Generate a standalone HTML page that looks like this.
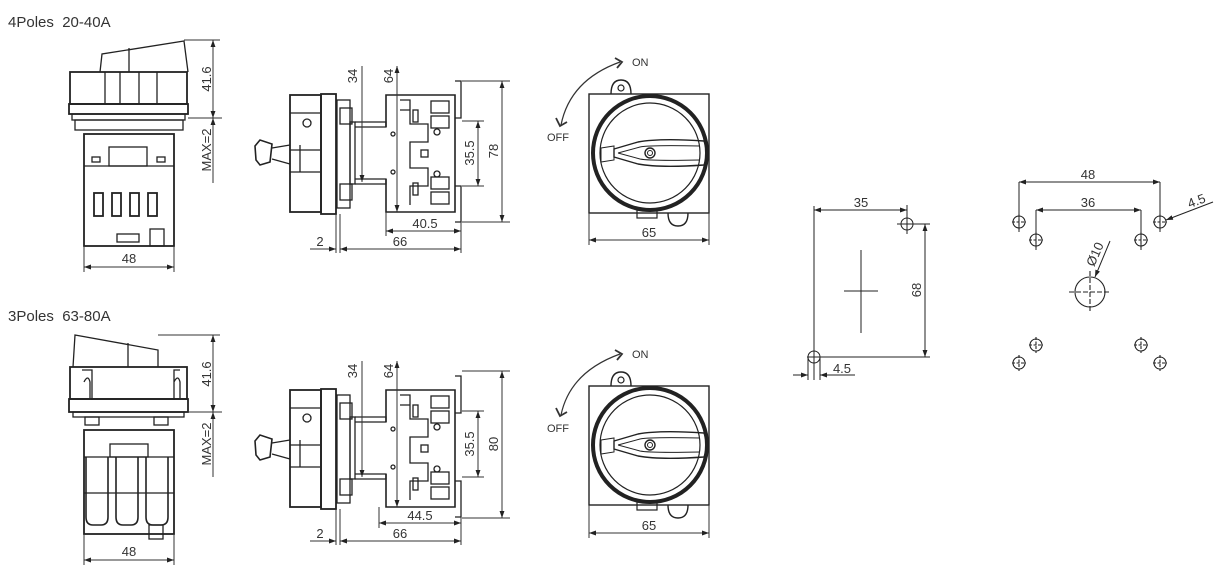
<!DOCTYPE html>
<html><head><meta charset="utf-8"><style>
html,body{margin:0;padding:0;background:#fff;}
svg{display:block;}
text{font-family:"Liberation Sans",sans-serif;fill:#333;}
</style></head><body>
<svg width="1223" height="578" viewBox="0 0 1223 578" xmlns="http://www.w3.org/2000/svg">
<defs>
<marker id="a" viewBox="0 0 10 10" refX="10" refY="5" markerWidth="7" markerHeight="7" orient="auto-start-reverse"><path d="M0,1.5 L10,5 L0,8.5z" fill="#222"/></marker>

<g id="front4" fill="none" stroke="#222" stroke-width="1.3">
 <path d="M100,72 L102,54 L184,41 L188,72"/>
 <line x1="129" y1="48" x2="129" y2="72"/>
 <rect x="70" y="72" width="117" height="32" stroke-width="1.8"/>
 <path d="M105,72 V104 M120,72 V104 M139,72 V104 M157,72 V104"/>
 <rect x="69" y="104" width="119" height="10" stroke-width="1.8"/>
 <rect x="72" y="114" width="113" height="6"/>
 <rect x="75" y="120" width="108" height="10"/>
 <rect x="84" y="134" width="90" height="112" stroke-width="1.8"/>
 <rect x="109" y="147" width="38" height="19"/>
 <line x1="84" y1="166" x2="174" y2="166"/>
 <rect x="92" y="157" width="8" height="5"/><rect x="157" y="157" width="8" height="5"/>
 <rect x="94" y="193" width="9" height="23" stroke-width="1.8"/><rect x="112" y="193" width="9" height="23" stroke-width="1.8"/><rect x="130" y="193" width="9" height="23" stroke-width="1.8"/><rect x="148" y="193" width="9" height="23" stroke-width="1.8"/>
 <rect x="117" y="234" width="22" height="8"/><rect x="150" y="229" width="14" height="17"/>
</g>

<g id="front3" fill="none" stroke="#222" stroke-width="1.3">
 <path d="M73,367 L75,335 L158,350 L158,367"/>
 <line x1="128" y1="343" x2="128" y2="367"/>
 <rect x="70" y="367" width="117" height="32" stroke-width="1.8"/>
 <path d="M82,370 h10 v30 M180,370 h-6 v30 M84,382 q4,-8 6,0 v16 M174,382 q4,-8 6,0 v16"/>
 <rect x="69" y="399" width="119" height="13" stroke-width="1.8"/>
 <rect x="73" y="412" width="111" height="5"/>
 <rect x="85" y="417" width="14" height="8"/><rect x="154" y="417" width="14" height="8"/>
 <rect x="84" y="430" width="90" height="104" stroke-width="1.8"/>
 <rect x="110" y="444" width="38" height="13"/>
 <line x1="84" y1="457" x2="174" y2="457"/>
 <line x1="84" y1="493" x2="174" y2="493"/>
 <path d="M86,457 v60 q0,8 7,8 h8 q7,0 7,-8 v-60 M116,457 v60 q0,8 7,8 h8 q7,0 7,-8 v-60 M146,457 v60 q0,8 7,8 h8 q7,0 7,-8 v-60" stroke-width="1.6"/>
 <rect x="149" y="525" width="14" height="14"/>
</g>

<g id="side" fill="none" stroke="#222" stroke-width="1.3">
 <path d="M260,140 L255,146 L256,160 L260,165 L270,162 L272,144 Z" stroke-width="1.6"/>
 <path d="M272,148 L290,145 M272,159 L290,164"/>
 <rect x="290" y="95" width="31" height="117" stroke-width="1.8"/>
 <path d="M290,150 H320 M300,145 V172 M290,172 H320 M290,113 H320"/>
 <circle cx="307" cy="123" r="4"/>
 <rect x="321" y="94" width="15" height="120" stroke-width="1.8"/>
 <rect x="337" y="100" width="13" height="108"/>
 <rect x="340" y="108" width="12" height="16"/><rect x="340" y="184" width="12" height="16"/>
 <rect x="350" y="122" width="5" height="62"/>
 <path d="M355,122 H386 V127 H355 M355,184 H386 V179 H355"/>
 <path d="M386,127 V95 H455 V212 H386 V179" stroke-width="1.6"/>
 <path d="M400,100 H410 V110 H400 M410,110 V124 H428 V142 H410 V168 H428 V186 H410 V205"/>
 <rect x="413" y="110" width="5" height="12"/><rect x="413" y="183" width="5" height="12"/>
 <rect x="431" y="101" width="18" height="12"/><rect x="431" y="116" width="18" height="12"/><rect x="431" y="177" width="18" height="12"/><rect x="431" y="192" width="18" height="12"/>
 <circle cx="393" cy="134" r="2"/><circle cx="393" cy="172" r="2"/><circle cx="437" cy="132" r="3"/><circle cx="437" cy="174" r="3"/>
 <rect x="421" y="150" width="7" height="7"/>
 <path d="M455,81 H461 V118 H455 M455,186 H461 V222 H455"/>
</g>

<g id="rotor" fill="none" stroke="#222">
 <rect x="589" y="94" width="120" height="119" stroke-width="1.4"/>
 <path d="M611,94 Q611,80 621,80 Q631,80 631,94" stroke-width="1.4"/>
 <circle cx="621" cy="88" r="3" stroke-width="1.2"/>
 <path d="M668,213 Q668,226 678,226 Q688,226 688,213" stroke-width="1.4"/>
 <rect x="637" y="210" width="20" height="8" stroke-width="1.2"/>
 <circle cx="650" cy="153" r="57" stroke-width="4"/>
 <circle cx="650" cy="153" r="50" stroke-width="1.2"/>
 <path d="M614,149 L638,142 Q660,138 704,141 L708,153 L704,165 Q660,168 638,164 L614,157 Z" stroke-width="1.4"/>
 <path d="M618,153 L640,147 Q650,145 700,146 M618,153 L640,159 Q650,161 700,160" stroke-width="1"/>
 <circle cx="650" cy="153" r="5" stroke-width="1.4"/><circle cx="650" cy="153" r="2.5" stroke-width="1"/>
 <path d="M601,148 L614,146 L614,160 L601,162 Z" stroke-width="1"/>
</g>
</defs>

<text x="8" y="27" font-size="15">4Poles&#160;&#160;20-40A</text>
<text x="8" y="321" font-size="15">3Poles&#160;&#160;63-80A</text>

<!-- front views -->
<use href="#front4"/>
<use href="#front3"/>
<g stroke="#333" stroke-width="1" fill="none">
 <line x1="184" y1="40" x2="220" y2="40"/><line x1="188" y1="118" x2="222" y2="118"/>
 <line x1="213" y1="40" x2="213" y2="118" marker-start="url(#a)" marker-end="url(#a)"/>
 <line x1="213" y1="118" x2="213" y2="183" marker-start="url(#a)"/>
 <line x1="84" y1="246" x2="84" y2="272"/><line x1="174" y1="246" x2="174" y2="272"/>
 <line x1="84" y1="267" x2="174" y2="267" marker-start="url(#a)" marker-end="url(#a)"/>

 <line x1="158" y1="335" x2="220" y2="335"/><line x1="188" y1="412" x2="222" y2="412"/>
 <line x1="213" y1="335" x2="213" y2="412" marker-start="url(#a)" marker-end="url(#a)"/>
 <line x1="213" y1="412" x2="213" y2="477" marker-start="url(#a)"/>
 <line x1="84" y1="534" x2="84" y2="565"/><line x1="174" y1="534" x2="174" y2="565"/>
 <line x1="84" y1="560" x2="174" y2="560" marker-start="url(#a)" marker-end="url(#a)"/>
</g>
<g font-size="13">
 <text transform="translate(211,79) rotate(-90)" text-anchor="middle">41.6</text>
 <text transform="translate(211,150) rotate(-90)" text-anchor="middle">MAX=2</text>
 <text x="129" y="263" text-anchor="middle">48</text>
 <text transform="translate(211,374) rotate(-90)" text-anchor="middle">41.6</text>
 <text transform="translate(211,444) rotate(-90)" text-anchor="middle">MAX=2</text>
 <text x="129" y="556" text-anchor="middle">48</text>
</g>

<!-- side views -->
<use href="#side"/>
<use href="#side" transform="translate(0,295)"/>
<g stroke="#333" stroke-width="1" fill="none">
 <line x1="362" y1="66" x2="362" y2="182" marker-end="url(#a)"/>
 <line x1="397" y1="66" x2="397" y2="212" marker-start="url(#a)" marker-end="url(#a)"/>
 <line x1="462" y1="121" x2="484" y2="121"/><line x1="462" y1="186" x2="484" y2="186"/>
 <line x1="478" y1="121" x2="478" y2="186" marker-start="url(#a)" marker-end="url(#a)"/>
 <line x1="462" y1="81" x2="510" y2="81"/><line x1="462" y1="222" x2="510" y2="222"/>
 <line x1="502" y1="81" x2="502" y2="222" marker-start="url(#a)" marker-end="url(#a)"/>
 <line x1="386" y1="212" x2="386" y2="236"/><line x1="461" y1="222" x2="461" y2="253"/>
 <line x1="386" y1="231" x2="461" y2="231" marker-start="url(#a)" marker-end="url(#a)"/>
 <line x1="336" y1="214" x2="336" y2="253"/><line x1="340" y1="214" x2="340" y2="253"/>
 <line x1="310" y1="249" x2="336" y2="249" marker-end="url(#a)"/>
 <line x1="340" y1="249" x2="461" y2="249" marker-start="url(#a)" marker-end="url(#a)"/>

 <line x1="362" y1="361" x2="362" y2="477" marker-end="url(#a)"/>
 <line x1="397" y1="361" x2="397" y2="507" marker-start="url(#a)" marker-end="url(#a)"/>
 <line x1="462" y1="411" x2="484" y2="411"/><line x1="462" y1="477" x2="484" y2="477"/>
 <line x1="478" y1="411" x2="478" y2="477" marker-start="url(#a)" marker-end="url(#a)"/>
 <line x1="462" y1="371" x2="510" y2="371"/><line x1="462" y1="518" x2="510" y2="518"/>
 <line x1="502" y1="371" x2="502" y2="518" marker-start="url(#a)" marker-end="url(#a)"/>
 <line x1="379" y1="507" x2="379" y2="528"/><line x1="461" y1="517" x2="461" y2="545"/>
 <line x1="379" y1="523" x2="461" y2="523" marker-start="url(#a)" marker-end="url(#a)"/>
 <line x1="336" y1="509" x2="336" y2="545"/><line x1="340" y1="509" x2="340" y2="545"/>
 <line x1="310" y1="541" x2="336" y2="541" marker-end="url(#a)"/>
 <line x1="340" y1="541" x2="461" y2="541" marker-start="url(#a)" marker-end="url(#a)"/>
</g>
<g font-size="13">
 <text transform="translate(357,76) rotate(-90)" text-anchor="middle">34</text>
 <text transform="translate(393,76) rotate(-90)" text-anchor="middle">64</text>
 <text transform="translate(474,153) rotate(-90)" text-anchor="middle">35.5</text>
 <text transform="translate(498,151) rotate(-90)" text-anchor="middle">78</text>
 <text x="425" y="228" text-anchor="middle">40.5</text>
 <text x="320" y="246" text-anchor="middle">2</text>
 <text x="400" y="246" text-anchor="middle">66</text>
 <text transform="translate(357,371) rotate(-90)" text-anchor="middle">34</text>
 <text transform="translate(393,371) rotate(-90)" text-anchor="middle">64</text>
 <text transform="translate(474,444) rotate(-90)" text-anchor="middle">35.5</text>
 <text transform="translate(498,444) rotate(-90)" text-anchor="middle">80</text>
 <text x="420" y="520" text-anchor="middle">44.5</text>
 <text x="320" y="538" text-anchor="middle">2</text>
 <text x="400" y="538" text-anchor="middle">66</text>
</g>

<!-- rotor views -->
<use href="#rotor"/>
<use href="#rotor" transform="translate(0,292)"/>
<g stroke="#333" stroke-width="1" fill="none">
 <path d="M561,125 Q570,80 620,62" stroke-width="1.2"/>
 <path d="M615,58 L622,62 L617,68 M556,118 L560,126 L567,122" stroke-width="1.8"/>
 <line x1="589" y1="213" x2="589" y2="245"/><line x1="709" y1="213" x2="709" y2="245"/>
 <line x1="589" y1="240" x2="709" y2="240" marker-start="url(#a)" marker-end="url(#a)"/>
 <path d="M561,415 Q570,372 620,354" stroke-width="1.2"/>
 <path d="M615,350 L622,354 L617,360 M556,408 L560,416 L567,412" stroke-width="1.8"/>
 <line x1="589" y1="505" x2="589" y2="538"/><line x1="709" y1="505" x2="709" y2="538"/>
 <line x1="589" y1="533" x2="709" y2="533" marker-start="url(#a)" marker-end="url(#a)"/>
</g>
<g font-size="11">
 <text x="632" y="66">ON</text><text x="547" y="141">OFF</text>
 <text x="632" y="358">ON</text><text x="547" y="432">OFF</text>
</g>
<g font-size="13">
 <text x="649" y="237" text-anchor="middle">65</text>
 <text x="649" y="530" text-anchor="middle">65</text>
</g>

<!-- cutout pattern 1 -->
<g stroke="#222" stroke-width="1" fill="none">
 <line x1="814" y1="206" x2="814" y2="380"/>
 <line x1="814" y1="210" x2="907" y2="210" marker-start="url(#a)" marker-end="url(#a)"/>
 <line x1="907" y1="205" x2="907" y2="216"/>
 <circle cx="907" cy="224" r="6"/><line x1="897" y1="224" x2="930" y2="224"/><line x1="907" y1="214" x2="907" y2="234"/>
 <circle cx="814" cy="357" r="6"/><line x1="807" y1="357" x2="930" y2="357"/>
 <line x1="925" y1="224" x2="925" y2="357" marker-start="url(#a)" marker-end="url(#a)"/>
 <line x1="844" y1="291" x2="878" y2="291"/><line x1="861" y1="250" x2="861" y2="333"/>
 <line x1="808" y1="357" x2="808" y2="380"/><line x1="820" y1="357" x2="820" y2="380"/>
 <line x1="793" y1="375" x2="808" y2="375" marker-end="url(#a)"/>
 <line x1="855" y1="375" x2="820" y2="375" marker-end="url(#a)"/>
</g>
<g font-size="13">
 <text x="861" y="207" text-anchor="middle">35</text>
 <text transform="translate(921,290) rotate(-90)" text-anchor="middle">68</text>
 <text x="842" y="373" text-anchor="middle">4.5</text>
</g>

<!-- cutout pattern 2 -->
<g stroke="#222" stroke-width="1" fill="none">
 <line x1="1019" y1="182" x2="1160" y2="182" marker-start="url(#a)" marker-end="url(#a)"/>
 <line x1="1019" y1="182" x2="1019" y2="232"/><line x1="1160" y1="182" x2="1160" y2="232"/>
 <line x1="1036" y1="210" x2="1141" y2="210" marker-start="url(#a)" marker-end="url(#a)"/>
 <line x1="1036" y1="210" x2="1036" y2="250"/><line x1="1141" y1="210" x2="1141" y2="250"/>
 <g stroke-width="1.1">
 <circle cx="1019" cy="222" r="6"/><path d="M1012,222 h14 M1019,214 v16" stroke-dasharray="3,1.5"/>
 <circle cx="1036" cy="240" r="6"/><path d="M1029,240 h14 M1036,232 v16" stroke-dasharray="3,1.5"/>
 <circle cx="1141" cy="240" r="6"/><path d="M1134,240 h14 M1141,232 v16" stroke-dasharray="3,1.5"/>
 <circle cx="1160" cy="222" r="6"/><path d="M1153,222 h14 M1160,214 v16" stroke-dasharray="3,1.5"/>
 <circle cx="1036" cy="345" r="6"/><path d="M1029,345 h14 M1036,337 v16" stroke-dasharray="3,1.5"/>
 <circle cx="1019" cy="363" r="6"/><path d="M1012,363 h14 M1019,355 v16" stroke-dasharray="3,1.5"/>
 <circle cx="1141" cy="345" r="6"/><path d="M1134,345 h14 M1141,337 v16" stroke-dasharray="3,1.5"/>
 <circle cx="1160" cy="363" r="6"/><path d="M1153,363 h14 M1160,355 v16" stroke-dasharray="3,1.5"/>
 <circle cx="1090" cy="292" r="15"/><path d="M1069,292 h42 M1090,271 v42" stroke-dasharray="5,2"/>
 </g>
 <line x1="1110" y1="241" x2="1095" y2="277" marker-end="url(#a)"/>
 <line x1="1213" y1="202" x2="1166" y2="220" marker-end="url(#a)"/>
</g>
<g font-size="13">
 <text x="1088" y="179" text-anchor="middle">48</text>
 <text x="1088" y="207" text-anchor="middle">36</text>
 <text transform="translate(1099,256) rotate(-66)" text-anchor="middle">Ø10</text>
 <text transform="translate(1198,205) rotate(-21)" text-anchor="middle">4.5</text>
</g>
</svg>
</body></html>
